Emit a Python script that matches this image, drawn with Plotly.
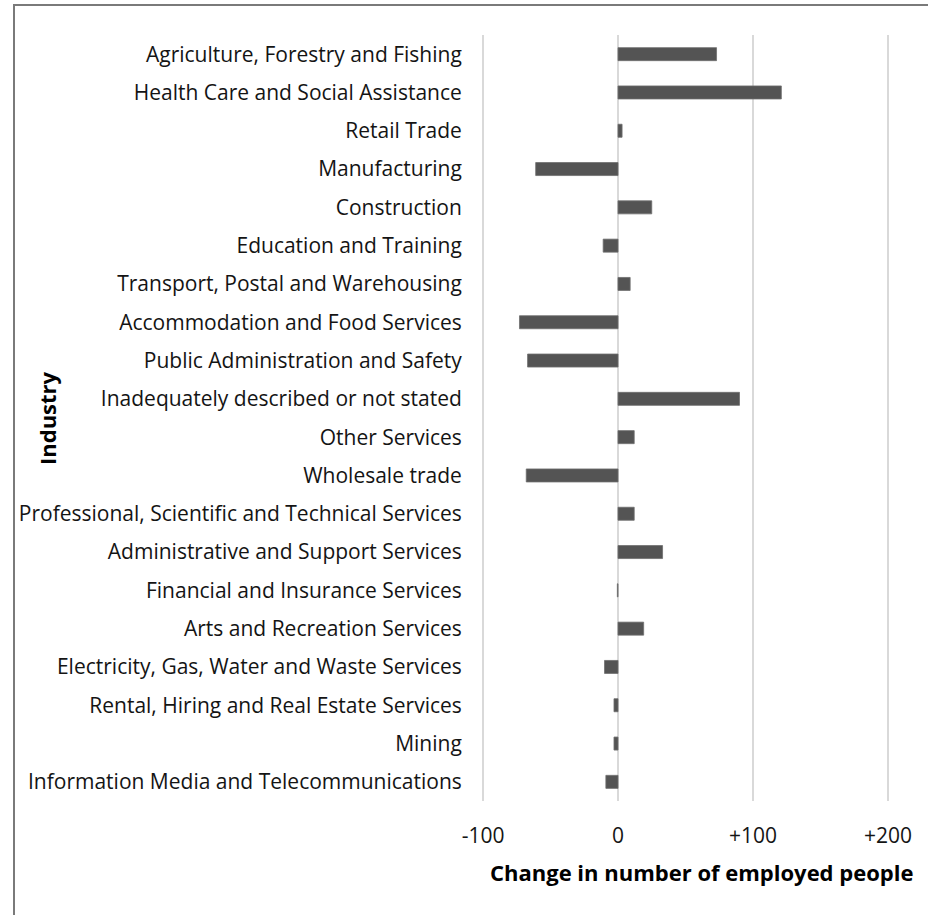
import plotly.graph_objects as go

# Industries, top to bottom as listed on the chart
industries = [
    "Agriculture, Forestry and Fishing",
    "Health Care and Social Assistance",
    "Retail Trade",
    "Manufacturing",
    "Construction",
    "Education and Training",
    "Transport, Postal and Warehousing",
    "Accommodation and Food Services",
    "Public Administration and Safety",
    "Inadequately described or not stated",
    "Other Services",
    "Wholesale trade",
    "Professional, Scientific and Technical Services",
    "Administrative and Support Services",
    "Financial and Insurance Services",
    "Arts and Recreation Services",
    "Electricity, Gas, Water and Waste Services",
    "Rental, Hiring and Real Estate Services",
    "Mining",
    "Information Media and Telecommunications",
]

# Change in number of employed people per industry
change = [73, 121, 3, -61, 25, -11, 9, -73, -67, 90,
          12, -68, 12, 33, -0.5, 19, -10, -3, -3, -9]

tick_vals = [-100, 0, 100, 200]
tick_text = ["-100", "0", "+100", "+200"]

FONT = "Open Sans"
LABEL_SIZE = 21
W, H = 928, 915
ML, MR, MT, MB = 479, 36, 35, 114
PW, PH = W - ML - MR, H - MT - MB

fig = go.Figure(
    go.Bar(
        x=change,
        y=industries,
        orientation="h",
        marker=dict(color="#545454", line=dict(color="#6e6e6e", width=0.8)),
        width=0.34,
        hoverinfo="x+y",
    )
)

fig.update_layout(
    width=W,
    height=H,
    margin=dict(l=ML, r=MR, t=MT, b=MB, pad=0),
    paper_bgcolor="white",
    plot_bgcolor="white",
    font=dict(family=FONT, size=LABEL_SIZE, color="#141414"),
    showlegend=False,
    xaxis=dict(
        range=[-103, 203],
        tickvals=tick_vals,
        ticktext=tick_text,
        showgrid=True,
        gridcolor="#d9d9d9",
        gridwidth=1.6,
        zeroline=True,
        zerolinecolor="#d9d9d9",
        zerolinewidth=1.6,
        showline=False,
        ticks="outside",
        ticklen=16,
        tickcolor="rgba(0,0,0,0)",
        tickfont=dict(family=FONT, size=LABEL_SIZE, color="#141414"),
        fixedrange=True,
    ),
    yaxis=dict(
        autorange="reversed",
        showgrid=False,
        zeroline=False,
        showline=False,
        ticks="outside",
        ticklen=12,
        tickcolor="rgba(0,0,0,0)",
        tickfont=dict(family=FONT, size=LABEL_SIZE, color="#141414"),
        fixedrange=True,
    ),
)

def px_x(p):
    return (p - ML) / PW

def px_y(p):
    return 1 - (p - MT) / PH

fig.add_annotation(
    text="<b>Change in number of employed people</b>",
    xref="paper", yref="paper",
    x=px_x(701), y=px_y(872),
    xanchor="center", yanchor="middle",
    showarrow=False,
    font=dict(family=FONT, size=22, color="#000000"),
)
fig.add_annotation(
    text="<b>Industry</b>",
    xref="paper", yref="paper",
    x=px_x(47), y=px_y(418),
    xanchor="center", yanchor="middle",
    textangle=-90,
    showarrow=False,
    font=dict(family=FONT, size=22, color="#000000"),
)

# Chart frame
fig.add_shape(
    type="rect",
    xref="paper", yref="paper",
    x0=px_x(14), x1=px_x(940), y0=px_y(5), y1=px_y(930),
    line=dict(color="#7a7a7a", width=2),
    fillcolor="rgba(0,0,0,0)",
    layer="below",
)

fig.write_html("out.html")
